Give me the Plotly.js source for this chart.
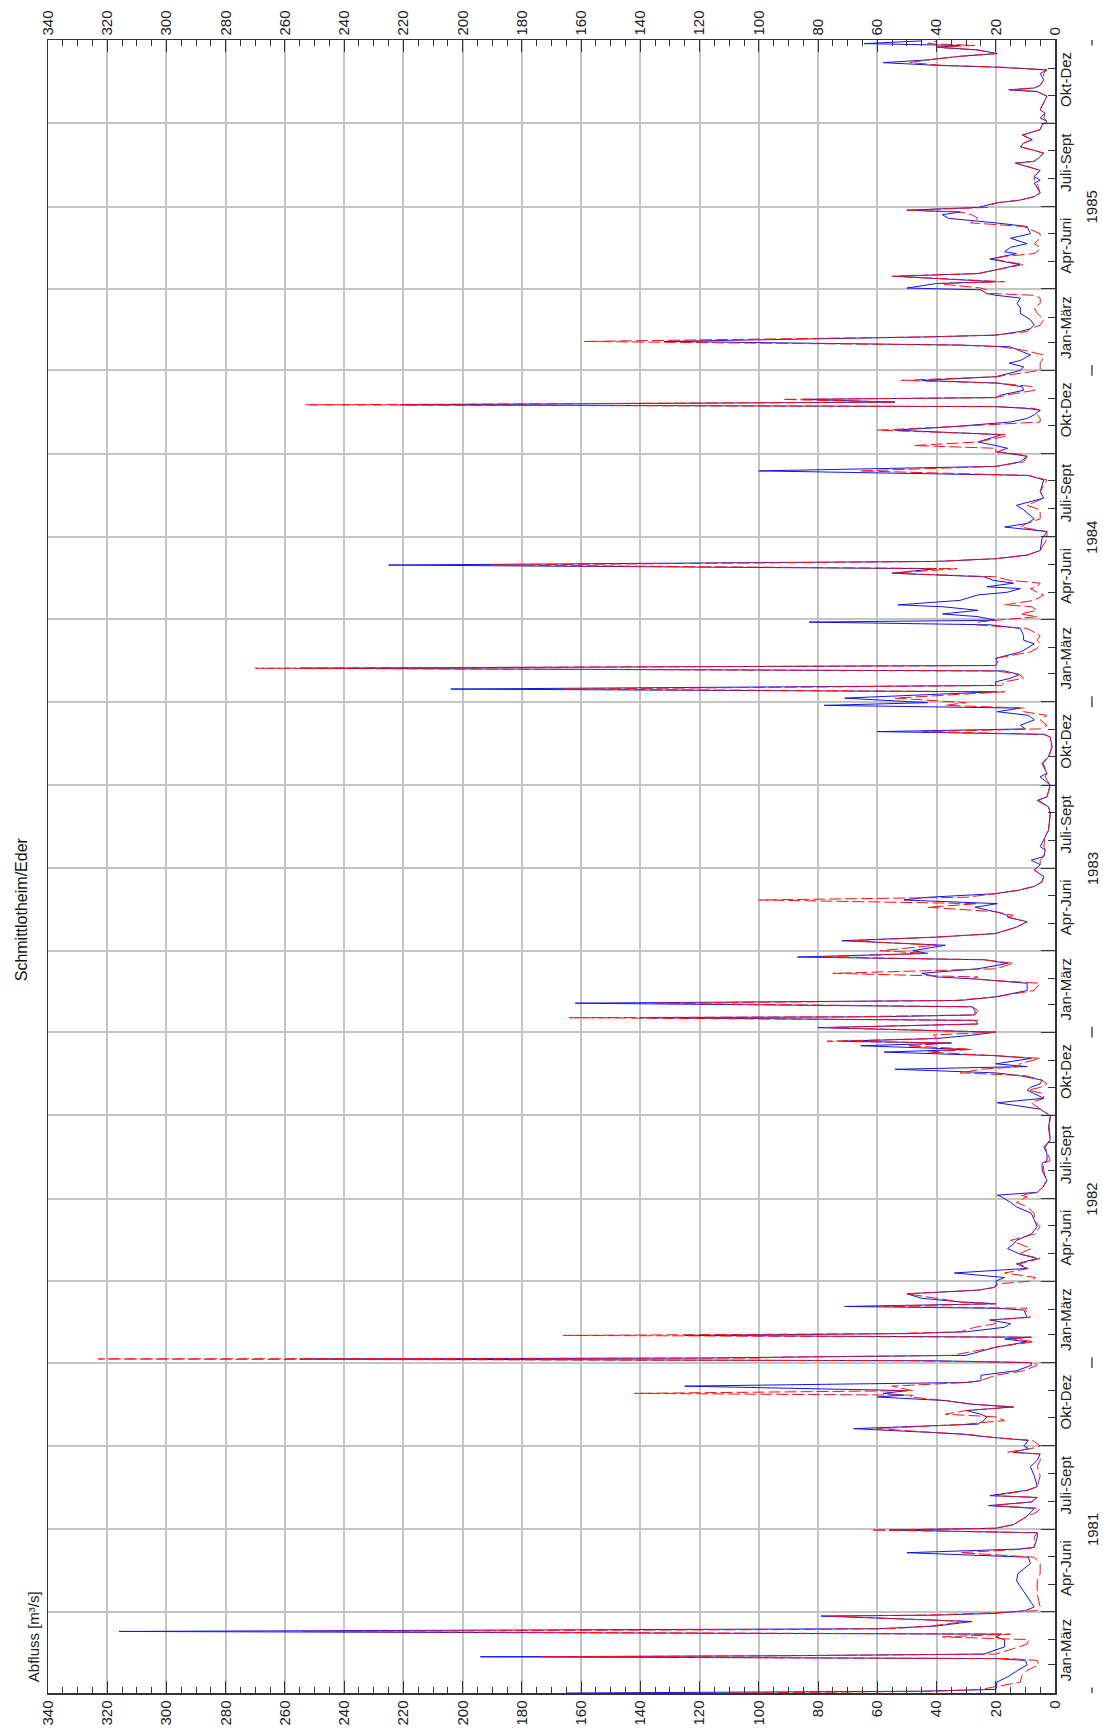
<!DOCTYPE html>
<html>
<head>
<meta charset="utf-8">
<script src="https://cdn.plot.ly/plotly-3.0.1.min.js"></script>
<style>
html,body{margin:0;padding:0;background:#ffffff;}
#chart{width:1103px;height:1729px;}
</style>
</head>
<body>
<div id="chart"></div>
<script>
// ---- data ----
const startDate = '1981-01-01';           // day 0
const endDate = '1986-01-01';
// days since startDate
const dayOffset = [
  0,1,2,4,12,19,25,31,36,38,
  40,41,42,43,51,54,59,62,65,68,
  70,71,74,79,85,86,88,91,95,109,
  124,132,143,150,155,159,161,172,177,180,
  182,186,194,200,204,207,211,216,218,224,
  228,240,250,257,264,266,270,273,279,282,
  286,288,292,295,297,301,305,308,312,316,
  319,323,327,329,331,334,339,343,345,351,
  356,362,365,367,369,370,371,373,382,388,
  391,393,395,397,399,404,408,412,415,423,
  425,427,430,432,436,441,445,448,452,455,
  459,464,469,474,480,485,491,496,500,507,
  515,522,530,537,542,548,550,553,559,566,
  577,585,588,596,603,611,625,637,640,645,
  652,657,662,666,669,673,677,682,685,689,
  692,695,701,704,708,711,715,718,720,723,
  727,730,735,739,743,746,747,749,754,758,
  762,765,769,776,784,787,789,791,795,800,
  806,810,813,817,820,826,831,835,839,843,
  846,852,857,859,863,868,872,876,879,883,
  887,891,896,902,909,915,920,924,931,935,
  946,953,972,979,986,990,1003,1012,1016,1027,
  1034,1045,1056,1059,1062,1065,1069,1075,1080,1084,
  1088,1091,1094,1099,1106,1109,1113,1117,1121,1125,
  1129,1132,1135,1139,1143,1150,1154,1159,1163,1168,
  1176,1180,1183,1185,1189,1192,1196,1200,1202,1207,
  1213,1216,1220,1222,1226,1229,1233,1237,1242,1246,
  1250,1253,1257,1262,1275,1283,1288,1292,1297,1307,
  1312,1320,1327,1340,1345,1350,1355,1360,1366,1368,
  1371,1375,1378,1382,1388,1390,1395,1399,1404,1408,
  1412,1417,1419,1421,1423,1426,1429,1431,1434,1439,
  1443,1447,1450,1454,1461,1465,1469,1472,1478,1483,
  1487,1489,1493,1498,1500,1504,1507,1511,1517,1524,
  1530,1535,1541,1544,1546,1550,1552,1557,1559,1565,
  1568,1572,1578,1584,1587,1590,1592,1597,1601,1607,
  1612,1620,1624,1629,1633,1636,1638,1641,1646,1649,
  1653,1657,1668,1671,1675,1682,1690,1692,1697,1701,
  1704,1708,1712,1716,1721,1727,1732,1736,1740,1745,
  1749,1756,1764,1769,1771,1773,1776,1782,1789,1793,
  1796,1798,1801,1804,1808,1811,1815,1818,1820,1822,
  1825
];
// blue series, m³/s
const blueFlow = [
  165,90,45,20,19.6,15.3,12.6,9.4,10,20,
  194,100,45,24,17,17,17,20,18,316,
  114,60,40,28,79,40,20,10,7,10,
  13,12.5,8.3,9,50,12,7,6,6,56,
  20,14,10,8,7,22.5,8,6,22,9.4,
  6,7,8.3,6,5,14,9,10.5,9,20,
  32,43,68,43,26,24,23,25,30,14,
  28,37,60,51,58,50,125,30,25,25,
  13,8,8,40,255,120,90,30,20,9.4,
  17,8,125,50,30,17,15,22,9.4,10.5,
  19.6,71,20,32,45,50,26,20.5,19.6,20,
  17,34,9.4,13,6,12,16,14,13,8,
  6,7,8,13,15,18,19.5,6,4,2.7,
  4.3,4.4,2.7,2.7,3.8,1.6,2.2,1.6,2.7,5,
  19.5,3.8,7,9.4,8.3,5,4.4,12,20,54,
  9.4,20,8,20,57.7,30,65.6,35,72,40,
  27,20,80,26,27,140,60,27,27,28,
  162,32,20,9.4,9.4,20,28,40,45,26,
  16,24,87,43,48,37,72,40,20,16,
  13,9.4,16,16,20,27,19.5,51,43,20,
  12,7,4.4,3.8,7,5,8,3.8,3.3,5,
  3.3,2.2,1.6,2.2,6,2.7,1.6,5,2.7,4.4,
  2.2,1,1.6,3.8,60,10,11.7,7,9,19.5,
  11.7,78,43,71,20,204,20,20,15,12,
  17,255,20,19.5,20,11.7,9.4,7,10.6,10.6,
  11.7,22,83,20,26,38,26,38,53,32,
  26,16,11.7,23,14,20.7,24,55,40,225,
  40,20,9.4,5,4.4,2.7,17,9.4,7,10.6,
  13,3.8,5,3.8,9,100,20,11.7,9.4,12.8,
  19.5,16,20,26,20,18,54,34,15,9.4,
  7,5,9.4,20,221,54,85,20,18,10.6,
  11,19.5,45,20,11.7,10.6,15.5,11.7,8.3,12,
  15,32,132,43,20,11.7,8.3,7,8.3,11.7,
  11.7,12.8,11.7,20,23,25,50,40,20,54,
  26,20,12,22,17,13,17,15,9.4,15,
  8.3,9.4,20,36,38,32,50,26,20,12,
  7,5,7,5,7,5,13.4,7,5,3.8,
  7,11.7,10.6,7.7,11,5,4.4,2.7,5,3.3,
  5,3.8,2.7,6,15.6,7,5,3.8,5,2.7,
  20,40,58,43,32,19.5,26,40,32,64.5,
  45
];
// red series, m³/s
const redFlow = [
  110,70,40,25,11.7,11.2,9.4,5.5,6,15,
  173,95,50,20,12,9.4,8.9,38,15,254,
  95,55,42,30,76,45,25,6,5,6,
  6,5,5,7,32,10,7,7,6,62,
  20,14,10,6,5,21,8,6,20,9,
  6,5,6,5,5,16,8,5,7.5,20,
  30,42,60,42,30,17,20,37,30,14,
  28,37,49,48,142,48,55,30,25,20,
  10.6,6,7,50,323,100,93,35,20,7,
  14,8,166,55,32,27,20,22,8.3,10,
  9.4,58,20,32,40,50,26,20.5,19,8,
  6.5,17,9,12,5,12,8,11.7,15,7,
  5,7,7,9.4,13,9.4,11.7,6,4,3,
  3.8,4,1.6,2.5,3.3,1.6,2,1.5,2.5,5,
  8,3.8,3.8,9,5,2.7,4.4,10,32,25,
  11.7,12,5,20,43,28,50,35,77,40,
  41,20,78,26,26,164,70,27,26,28,
  135,34,20,7,5,20,28,26,75,20,
  14,24,79,43,59,40,69,40,20,16,
  13,9.4,16,14,20,43,26,100,30,20,
  12,7,4.4,3.8,7,5,5,3.8,3.3,3.8,
  3.3,2.2,1.6,2.2,5.5,2.7,1.6,3.3,2.7,4,
  2.2,1,1.6,3.8,45,5,2.7,5,2.7,10.6,
  10,37,30,54,17,166,18,17,10.6,12,
  19.5,270,20,19.5,20,8.3,6,5,6,5,
  9.4,27,26,20,6,11.7,6,8,17,7,
  3.8,6,8.3,6,5,15,20,55,33,190,
  40,20,9.4,5,2.7,2.7,11.7,9.4,5,5,
  9.4,3.8,5,2.7,9,66,20,10.6,9.4,10.6,
  20,20,47.6,26,17,16,60,34,5,5,
  6,5,7,20,253,54,92,20,16,7,
  7,19.5,52,20,5,5,5,4.4,3.8,10,
  18,32,159,43,20,9.4,8.3,5,3.8,6,
  7,5,5,7,22,23,25,40,17,55,
  26,20,10.6,21,17,7,6,5,7,5,
  5,10.6,28.5,26,28,32,50,23,20,12,
  7,5,6,7,7,5,13,7,5,3.8,
  7,11.7,10.6,7.7,11,5,4.4,2.7,3.8,3.3,
  5,3.8,2.7,6,15,7,5,3.8,3.8,2.7,
  18,38,49,43,32,20,26,40,27,43,
  40
];
const valueTicks = [0,20,40,60,80,100,120,140,160,180,200,220,240,260,280,300,320,340];
const quarterNames = ['Jan-März','Apr-Juni','Juli-Sept','Okt-Dez'];
const years = ['1981','1982','1983','1984','1985'];
const chartTitle = 'Schmittlotheim/Eder';
const valueTitle = 'Abfluss [m³/s]';

// ---- helpers ----
const DAY = 86400000;
const t0 = Date.parse(startDate + 'T00:00:00Z');
function fmt(ms){ return new Date(ms).toISOString().slice(0,19).replace('T',' '); }
const dates = dayOffset.map(d => fmt(t0 + d*DAY));

const quarterStarts = [];
years.forEach(y => ['01','04','07','10'].forEach(m => quarterStarts.push(y + '-' + m + '-01')));
quarterStarts.push(endDate);
const quarterMids = [], quarterText = [];
for (let i = 0; i < quarterStarts.length - 1; i++) {
  const a = Date.parse(quarterStarts[i] + 'T00:00:00Z');
  const b = Date.parse(quarterStarts[i+1] + 'T00:00:00Z');
  quarterMids.push(fmt((a + b) / 2));
  quarterText.push(quarterNames[i % 4]);
}

const fontFam = '"Liberation Sans", Arial, sans-serif';
const tickFont = {family: fontFam, size: 15, color: '#222'};
const axisColor = '#333';
const gridColor = '#c4c4c4';

const traces = [
  {type:'scatter', mode:'lines', x: blueFlow, y: dates, name:'blau',
   line:{color:'#1414e6', width:1}, hoverinfo:'skip'},
  {type:'scatter', mode:'lines', x: redFlow, y: dates, name:'rot',
   line:{color:'#ff1010', width:1, dash:'12px,4px'}, hoverinfo:'skip'},
  {type:'scatter', mode:'lines', x:[null], y:[null], xaxis:'x2', yaxis:'y', showlegend:false, hoverinfo:'skip'},
  {type:'scatter', mode:'lines', x:[null], y:[null], xaxis:'x', yaxis:'y2', showlegend:false, hoverinfo:'skip'}
];

const valueAxisCommon = {
  range:[340,0], autorange:false, tickmode:'array', tickvals: valueTicks,
  tickangle:-90, ticks:'inside', ticklen:12, tickwidth:1, tickcolor:axisColor,
  showline:true, linecolor:axisColor, linewidth:1.5, zeroline:false,
  tickfont: tickFont, fixedrange:true,
  minor:{dtick:5, tick0:0, ticks:'inside', ticklen:6, tickwidth:1, tickcolor:axisColor, showgrid:false}
};

const annotations = [
  {text: chartTitle, xref:'paper', yref:'paper', x:-0.026, y:0.474, textangle:-90,
   showarrow:false, xanchor:'center', yanchor:'middle', font:{family:fontFam, size:16, color:'#111'}},
  {text: valueTitle, xref:'paper', yref:'paper', x:-0.0145, y:0.034, textangle:-90,
   showarrow:false, xanchor:'center', yanchor:'middle', font:tickFont}
];
years.forEach(y => annotations.push({
  text: y, xref:'paper', yref:'y', x:1.0367, y: y + '-07-01', textangle:-90,
  showarrow:false, xanchor:'center', yanchor:'middle', font:tickFont
}));

const shapes = [];
years.concat(['1986']).forEach(y => {
  const c = Date.parse(y + '-01-01T00:00:00Z');
  shapes.push({type:'line', xref:'paper', yref:'y', x0:1.0367, x1:1.0367,
    y0: fmt(c - 6*DAY), y1: fmt(c + 6*DAY), line:{color:axisColor, width:1.3}});
});

const layout = {
  width:1103, height:1729,
  margin:{l:48, r:48, t:40, b:36, pad:0},
  paper_bgcolor:'#ffffff', plot_bgcolor:'#ffffff',
  showlegend:false,
  xaxis: Object.assign({}, valueAxisCommon, {side:'bottom', showgrid:true, gridcolor:gridColor, gridwidth:2}),
  xaxis2: Object.assign({}, valueAxisCommon, {side:'top', overlaying:'x', anchor:'y', showgrid:false}),
  yaxis: {
    type:'date', range:[startDate, endDate], autorange:false, side:'right',
    tickmode:'array', tickvals: quarterStarts, showticklabels:false,
    ticks:'inside', ticklen:14, tickwidth:1, tickcolor:axisColor,
    showline:true, mirror:true, linecolor:axisColor, linewidth:1.5,
    showgrid:true, gridcolor:gridColor, gridwidth:2, zeroline:false, fixedrange:true,
    minor:{dtick:'M1', tick0:startDate, ticks:'inside', ticklen:7, tickwidth:1, tickcolor:axisColor, showgrid:false}
  },
  yaxis2: {
    type:'date', range:[startDate, endDate], autorange:false, overlaying:'y', side:'right', anchor:'x',
    tickmode:'array', tickvals: quarterMids, ticktext: quarterText, tickangle:-90,
    ticks:'', showgrid:false, showline:false, zeroline:false, tickfont: tickFont, fixedrange:true
  },
  annotations: annotations,
  shapes: shapes
};

Plotly.newPlot('chart', traces, layout, {staticPlot:true, displayModeBar:false});
</script>
</body>
</html>
